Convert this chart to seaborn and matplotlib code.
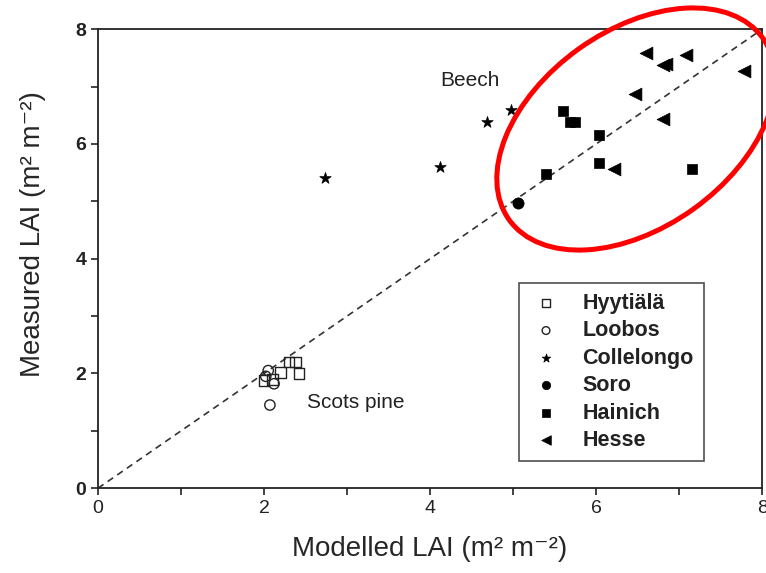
import numpy as np
import pandas as pd
import matplotlib
matplotlib.use("Agg")
import matplotlib.pyplot as plt
from matplotlib.patches import Ellipse
from matplotlib.transforms import IdentityTransform
import seaborn as sns

# modelled (x) vs measured (y) LAI per site
hyy_x = [2.00, 2.10, 2.20, 2.30, 2.38, 2.42]
hyy_y = [1.88, 1.90, 2.02, 2.20, 2.20, 2.00]
loo_x = [2.05, 2.12, 2.07, 2.02]
loo_y = [2.05, 1.82, 1.45, 1.95]
col_x = [2.73, 4.12, 4.69, 4.98]
col_y = [5.40, 5.59, 6.39, 6.59]
sor_x = [5.06]
sor_y = [4.97]
hai_x = [5.40, 5.60, 5.68, 5.75, 6.04, 6.03, 7.15]
hai_y = [5.47, 6.58, 6.38, 6.38, 6.15, 5.67, 5.57]
hes_x = [6.60, 7.08, 6.80, 6.84, 7.78, 6.47, 6.80, 6.21]
hes_y = [7.58, 7.55, 7.37, 7.40, 7.28, 6.87, 6.44, 5.57]

sites = ["Hyytiälä", "Loobos", "Collelongo", "Soro", "Hainich", "Hesse"]
xs = [hyy_x, loo_x, col_x, sor_x, hai_x, hes_x]
ys = [hyy_y, loo_y, col_y, sor_y, hai_y, hes_y]
markers = ["s", "o", "*", "o", "s", "<"]
open_m = [True, True, False, False, False, False]
sizes = [60, 55, 75, 65, 60, 85]

sns.set_style("ticks")
plt.rcParams["font.family"] = ["Liberation Sans", "DejaVu Sans"]

fig = plt.figure(figsize=(7.66, 5.73), dpi=100)
ax = fig.add_axes([0.128, 0.148, 0.867, 0.801])

ax.plot([0, 8], [0, 8], ls=(0, (4, 3)), color="#333333", lw=1.2, zorder=1)

for site, x, y, m, op, s in zip(sites, xs, ys, markers, open_m, sizes):
    df = pd.DataFrame({"x": x, "y": y})
    if op:
        sns.scatterplot(data=df, x="x", y="y", marker=m, s=s, ax=ax,
                        facecolors="none", edgecolor="#222222", linewidth=1.0,
                        label=site, zorder=3)
    else:
        sns.scatterplot(data=df, x="x", y="y", marker=m, s=s, ax=ax,
                        color="black", edgecolor="black", linewidth=0.5,
                        label=site, zorder=3)

ax.set_xlim(0, 8)
ax.set_ylim(0, 8)
ax.set_xticks([0, 2, 4, 6, 8])
ax.set_yticks([0, 2, 4, 6, 8])
ax.set_xticks([1, 3, 5, 7], minor=True)
ax.set_yticks([1, 3, 5, 7], minor=True)
ax.tick_params(which="both", direction="out", length=5, width=1.2, labelsize=14,
               colors="#222222")
for lab in ax.get_yticklabels():
    lab.set_fontweight("bold")
for sp in ax.spines.values():
    sp.set_visible(True)
    sp.set_linewidth(1.3)
    sp.set_color("#222222")

ax.set_xlabel("Modelled LAI (m² m⁻²)", fontsize=20)
ax.set_ylabel("Measured LAI (m² m⁻²)", fontsize=20)
ax.xaxis.set_label_coords(0.5, -0.105)
ax.yaxis.set_label_coords(-0.078, 0.553)

ax.text(4.48, 7.1, "Beech", fontsize=15, ha="center", va="center", color="#222222")
ax.text(2.52, 1.5, "Scots pine", fontsize=15, ha="left", va="center", color="#222222")

leg = ax.legend(loc="upper left", bbox_to_anchor=(0.634, 0.447), fontsize=15.5,
                frameon=True, fancybox=False, edgecolor="#222222",
                borderpad=0.45, labelspacing=0.3, handletextpad=0.9,
                markerscale=0.75, handlelength=1.6, borderaxespad=0)
leg.get_frame().set_linewidth(1.2)
for t in leg.get_texts():
    t.set_fontweight("bold")
    t.set_color("#222222")

ell = Ellipse((636, 573 - 129), 312, 197, angle=35.6, transform=IdentityTransform(),
              fill=False, edgecolor="red", lw=3.6, clip_on=False, zorder=5)
fig.patches.append(ell)

fig.savefig("out.png", dpi=100)
